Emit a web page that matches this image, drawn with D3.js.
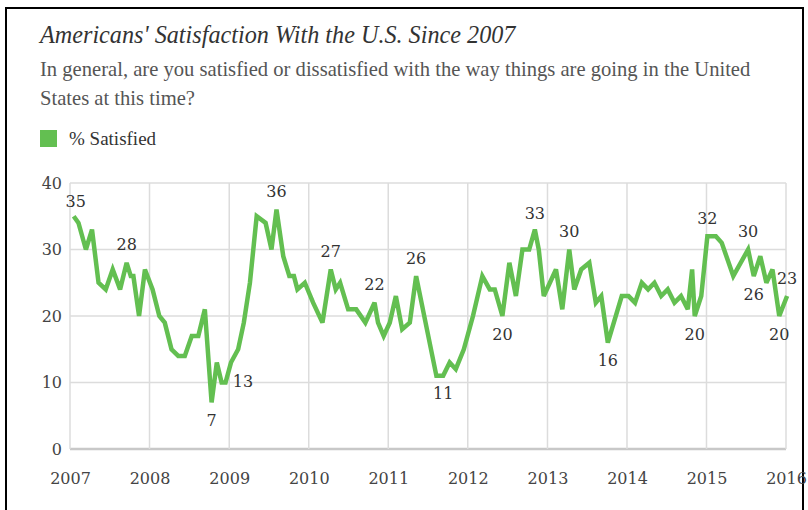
<!DOCTYPE html>
<html>
<head>
<meta charset="utf-8">
<script src="https://cdn.jsdelivr.net/npm/d3@7/dist/d3.min.js"></script>
<style>
  html, body { margin: 0; padding: 0; background: #fff; }
  svg { display: block; }
</style>
</head>
<body>
<svg id="chart" width="808" height="510"></svg>
<script>
// Poll dates and % satisfied readings
const pollDates = [
  "2007-01-18","2007-02-09","2007-03-15","2007-04-12","2007-05-12","2007-06-14","2007-07-16","2007-08-19",
  "2007-09-18","2007-10-07","2007-10-19","2007-11-14","2007-12-11",
  "2008-01-15","2008-02-15","2008-03-11","2008-04-11","2008-05-12","2008-06-11","2008-07-13","2008-08-12",
  "2008-09-11","2008-10-12","2008-11-05","2008-11-27","2008-12-15",
  "2009-01-09","2009-02-11","2009-03-09","2009-04-06","2009-05-07","2009-06-17","2009-07-14","2009-08-06",
  "2009-09-06","2009-10-04","2009-10-25","2009-11-10","2009-12-14",
  "2010-01-21","2010-03-05","2010-04-12","2010-05-05","2010-05-25","2010-07-01","2010-08-07","2010-09-18",
  "2010-10-30","2010-11-15","2010-12-11",
  "2011-01-08","2011-02-05","2011-03-06","2011-04-10","2011-05-09","2011-08-10","2011-09-10","2011-10-10",
  "2011-11-07","2011-12-14",
  "2012-01-25","2012-03-08","2012-04-11","2012-05-04","2012-06-08","2012-07-10","2012-08-09","2012-09-08",
  "2012-10-09","2012-11-04","2012-11-22","2012-12-15",
  "2013-02-09","2013-03-10","2013-04-11","2013-05-04","2013-06-05","2013-07-12","2013-08-11","2013-09-05",
  "2013-10-05","2013-12-08",
  "2014-01-08","2014-02-07","2014-03-10","2014-04-08","2014-05-07","2014-06-07","2014-07-07","2014-08-07",
  "2014-09-06","2014-10-07","2014-10-27","2014-11-08","2014-12-08",
  "2015-01-05","2015-02-13","2015-03-12","2015-05-04","2015-07-11","2015-08-06","2015-09-05","2015-10-03",
  "2015-10-31","2015-12-01",
  "2016-01-06"
];
const satisfied = [
  35,34,30,33,25,24,27,24,
  28,26,26,20,27,
  24,20,19,15,14,14,17,17,
  21,7,13,10,10,
  13,15,19,25,35,34,30,36,
  29,26,26,24,25,
  22,19,27,24,25,21,21,19,
  22,19,17,
  19,23,18,19,26,11,11,13,
  12,15,
  20,26,24,24,20,28,23,30,
  30,33,30,23,
  27,21,30,24,27,28,22,23,
  16,23,
  23,22,25,24,25,23,24,22,
  23,21,27,20,23,
  32,32,31,26,30,26,29,25,
  27,20,
  23
];

// Polls whose value is printed on the chart
const labeledDates = [
  "2007-01-18","2007-09-18","2008-10-12","2009-01-09","2009-08-06","2010-04-12","2010-10-30",
  "2011-05-09","2011-09-10","2012-06-08","2012-11-04","2013-04-11","2013-10-05","2014-11-08",
  "2015-01-05","2015-07-11","2015-08-06","2015-12-01","2016-01-06"
];

// Axis ticks
const yTicks = [0, 10, 20, 30, 40];
const xTickYears = [2007, 2008, 2009, 2010, 2011, 2012, 2013, 2014, 2015, 2016];

const title = "Americans' Satisfaction With the U.S. Since 2007";
const subtitleLines = [
  "In general, are you satisfied or dissatisfied with the way things are going in the United",
  "States at this time?"
];
const legendLabel = "% Satisfied";

// ---------------------------------------------------------------
const parse = d3.timeParse("%Y-%m-%d");
const data = pollDates.map((d, i) => ({ date: parse(d), value: satisfied[i], key: d }));

const GREEN = "#63bf51";
const NUM_FONT = "'DejaVu Serif', Georgia, serif";
const TEXT_FONT = "'Liberation Serif', 'Times New Roman', serif";

const svg = d3.select("#chart");

// outer frame
svg.append("rect")
  .attr("x", 6).attr("y", 8)
  .attr("width", 797).attr("height", 520)
  .attr("fill", "none").attr("stroke", "#000").attr("stroke-width", 2);

// heading
svg.append("text")
  .attr("x", 40).attr("y", 43)
  .attr("font-family", TEXT_FONT).attr("font-style", "italic")
  .attr("font-size", 24.2).attr("fill", "#333")
  .text(title);

svg.append("g").selectAll("text")
  .data(subtitleLines).join("text")
  .attr("x", 40).attr("y", (d, i) => 76 + i * 29)
  .attr("font-family", TEXT_FONT)
  .attr("font-size", 20.6).attr("fill", "#555")
  .text(d => d);

// legend
svg.append("rect")
  .attr("x", 40).attr("y", 130).attr("width", 17).attr("height", 17)
  .attr("fill", GREEN);
svg.append("text")
  .attr("x", 69).attr("y", 145)
  .attr("font-family", TEXT_FONT)
  .attr("font-size", 19).attr("fill", "#333")
  .text(legendLabel);

// scales
const x = d3.scaleTime()
  .domain([new Date(2007, 0, 1), new Date(2016, 0, 1)])
  .range([70, 786]);
const y = d3.scaleLinear().domain([0, 40]).range([449, 183]);

// grid
const grid = svg.append("g");
grid.selectAll("line.h").data(yTicks).join("line")
  .attr("class", "h")
  .attr("x1", x.range()[0]).attr("x2", x.range()[1])
  .attr("y1", d => y(d)).attr("y2", d => y(d))
  .attr("stroke", d => d === 0 ? "#c8c8c8" : "#dcdcdc")
  .attr("stroke-width", d => d === 0 ? 2.5 : 1.5);
grid.selectAll("line.v").data(xTickYears).join("line")
  .attr("class", "v")
  .attr("x1", d => x(new Date(d, 0, 1))).attr("x2", d => x(new Date(d, 0, 1)))
  .attr("y1", y(40)).attr("y2", y(0))
  .attr("stroke", "#dcdcdc").attr("stroke-width", 1.5);

// axes (labels only)
const yAxis = svg.append("g")
  .attr("transform", `translate(${x.range()[0] - 8},0)`)
  .call(d3.axisLeft(y).tickValues(yTicks).tickSize(0).tickPadding(0).tickFormat(d3.format("d")));
yAxis.select(".domain").remove();
yAxis.selectAll("text")
  .attr("font-family", NUM_FONT).attr("font-size", 16).attr("fill", "#444")
  .attr("dy", "0.32em");

const xAxis = svg.append("g")
  .attr("transform", `translate(0,${y(0) + 24})`)
  .call(d3.axisBottom(x)
    .tickValues(xTickYears.map(yr => new Date(yr, 0, 1)))
    .tickSize(0).tickPadding(0)
    .tickFormat(d3.timeFormat("%Y")));
xAxis.select(".domain").remove();
xAxis.selectAll("text")
  .attr("font-family", NUM_FONT).attr("font-size", 16).attr("fill", "#444");

// series line
const line = d3.line().x(d => x(d.date)).y(d => y(d.value));
svg.append("path")
  .datum(data)
  .attr("d", line)
  .attr("fill", "none")
  .attr("stroke", GREEN)
  .attr("stroke-width", 4.5)
  .attr("stroke-linejoin", "miter")
  .attr("stroke-miterlimit", 3);

// value labels: above peaks, below troughs
const below = new Set(["2008-10-12","2011-09-10","2012-06-08","2013-10-05","2014-11-08","2015-08-06","2015-12-01"]);
const nudge = { "2009-01-09": [12, 19], "2007-01-18": [2, -15], "2012-11-04": [0, -16] };
const labeled = data.filter(d => labeledDates.includes(d.key));
svg.append("g").selectAll("text")
  .data(labeled).join("text")
  .attr("x", d => x(d.date) + (nudge[d.key] ? nudge[d.key][0] : 0))
  .attr("y", d => y(d.value) + (nudge[d.key] ? nudge[d.key][1] : (below.has(d.key) ? 18 : -18)))
  .attr("dy", "0.35em")
  .attr("text-anchor", "middle")
  .attr("font-family", NUM_FONT).attr("font-size", 16).attr("fill", "#333")
  .text(d => d.value);
</script>
</body>
</html>
